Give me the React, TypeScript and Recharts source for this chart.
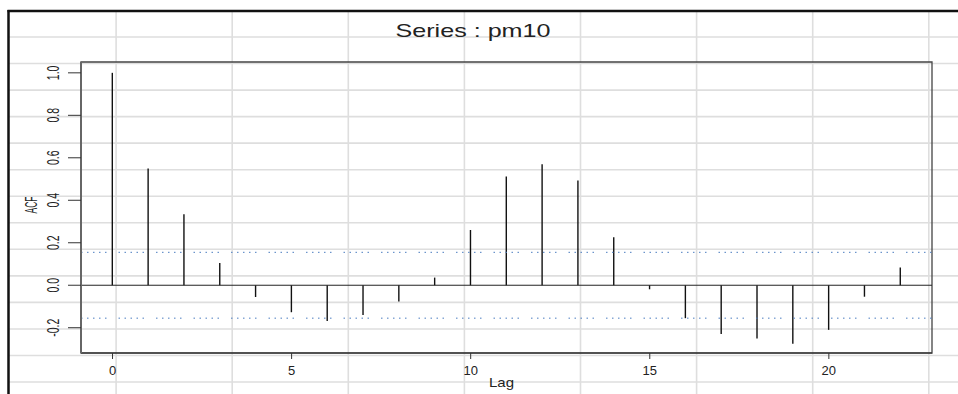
import React from "react";
import {
  ComposedChart,
  Bar,
  XAxis,
  YAxis,
  ReferenceLine,
  ReferenceArea,
} from "recharts";

const lags = [0, 1, 2, 3, 4, 5, 6, 7, 8, 9, 10, 11, 12, 13, 14, 15, 16, 17, 18, 19, 20, 21, 22];
const acfValues = [
  1.0, 0.55, 0.334, 0.105, -0.055, -0.127, -0.168, -0.14, -0.077, 0.036, 0.26, 0.512,
  0.57, 0.493, 0.226, -0.019, -0.155, -0.23, -0.251, -0.276, -0.21, -0.054, 0.083,
];
const confBound = 0.155;
const xTicks = [0, 5, 10, 15, 20];
const yTicks = [-0.2, 0.0, 0.2, 0.4, 0.6, 0.8, 1.0];
const titleText = "Series : pm10";
const xLabel = "Lag";
const yLabel = "ACF";

const data = lags.map((lag, i) => ({ lag, acf: acfValues[i] }));

const W = 958;
const H = 394;
const FONT = "'Liberation Sans', Arial, Helvetica, sans-serif";

const YTick = (props: any) => {
  const { x, y, payload } = props;
  return (
    <g transform={`translate(${x - 12},${y}) rotate(-90) scale(1,1.5)`}>
      <text
        x={0}
        y={0}
        textAnchor="middle"
        dominantBaseline="central"
        fontSize={10.5}
        fill="#222"
        fontFamily={FONT}
      >
        {Number(payload.value).toFixed(1)}
      </text>
    </g>
  );
};

const Background = () => {
  const vLines = [1, 2, 3, 4, 5, 6, 7, 8].map((k) => 116.1 * k);
  const hLines = Array.from({ length: 14 }, (_, k) => 37 + 26.54 * k);
  return (
    <svg width={W} height={H} style={{ position: "absolute", left: 0, top: 0 }}>
      <rect x={0} y={0} width={W} height={H} fill="#fff" />
      {vLines.map((x, i) => (
        <line key={"v" + i} x1={x} x2={x} y1={11} y2={H} stroke="#dedede" strokeWidth={1.6} />
      ))}
      {hLines.map((y, i) => (
        <line key={"h" + i} x1={9} x2={W} y1={y} y2={y} stroke="#dedede" strokeWidth={1.6} />
      ))}
      <line x1={7.5} x2={W} y1={11} y2={11} stroke="#111" strokeWidth={2.5} />
      <line x1={8.5} x2={8.5} y1={10} y2={H} stroke="#111" strokeWidth={2.5} />
      <text
        x={473}
        y={37}
        textAnchor="middle"
        fontSize={19}
        fill="#222"
        fontFamily={FONT}
        textLength={155}
        lengthAdjust="spacingAndGlyphs"
      >
        {titleText}
      </text>
      <text
        x={501.5}
        y={387}
        textAnchor="middle"
        fontSize={13}
        fill="#222"
        fontFamily={FONT}
        textLength={25}
        lengthAdjust="spacingAndGlyphs"
      >
        {xLabel}
      </text>
      <g transform="translate(32,205) rotate(-90) scale(1,1.5)">
        <text
          x={0}
          y={0}
          textAnchor="middle"
          dominantBaseline="central"
          fontSize={10.5}
          fill="#222"
          fontFamily={FONT}
          textLength={17}
          lengthAdjust="spacingAndGlyphs"
        >
          {yLabel}
        </text>
      </g>
    </svg>
  );
};

export default function App() {
  return (
    <div
      style={{
        position: "absolute",
        left: 0,
        top: 0,
        width: W,
        height: H,
        background: "#fff",
        fontFamily: FONT,
        overflow: "hidden",
      }}
    >
      <Background />
      <div style={{ position: "absolute", left: 0, top: 0 }}>
        <ComposedChart
          width={W}
          height={H}
          data={data}
          margin={{ top: 62, right: 26, bottom: 11, left: 41 }}
        >
          <XAxis
            dataKey="lag"
            type="number"
            domain={[-0.88, 22.88]}
            ticks={xTicks}
            allowDataOverflow
            height={30}
            tickSize={6}
            tickMargin={7}
            tick={{ fontSize: 13, fill: "#222", fontFamily: FONT }}
            tickLine={{ stroke: "#333" }}
            axisLine={{ stroke: "#333", strokeWidth: 1 }}
          />
          <YAxis
            type="number"
            domain={[-0.319, 1.051]}
            ticks={yTicks}
            allowDataOverflow
            width={40}
            tickSize={13}
            tickMargin={2}
            tick={<YTick />}
            tickLine={{ stroke: "#333" }}
            axisLine={{ stroke: "#666", strokeWidth: 2 }}
          />
          <ReferenceArea
            x1={-0.88}
            x2={22.88}
            y1={-0.319}
            y2={1.051}
            fill="none"
            stroke="#444"
            strokeWidth={1.3}
            ifOverflow="visible"
          />
          <ReferenceLine y={0} stroke="#222" strokeWidth={1} />
          <ReferenceLine
            y={confBound}
            stroke="#4a7cc0"
            strokeWidth={1}
            strokeDasharray="1.5 4.5 1.5 4.5 1.5 4.5 1.5 4.5 1.5 12"
          />
          <ReferenceLine
            y={-confBound}
            stroke="#4a7cc0"
            strokeWidth={1}
            strokeDasharray="1.5 4.5 1.5 4.5 1.5 4.5 1.5 4.5 1.5 12"
          />
          <Bar dataKey="acf" barSize={1.4} fill="#111" isAnimationActive={false} />
        </ComposedChart>
      </div>
    </div>
  );
}
